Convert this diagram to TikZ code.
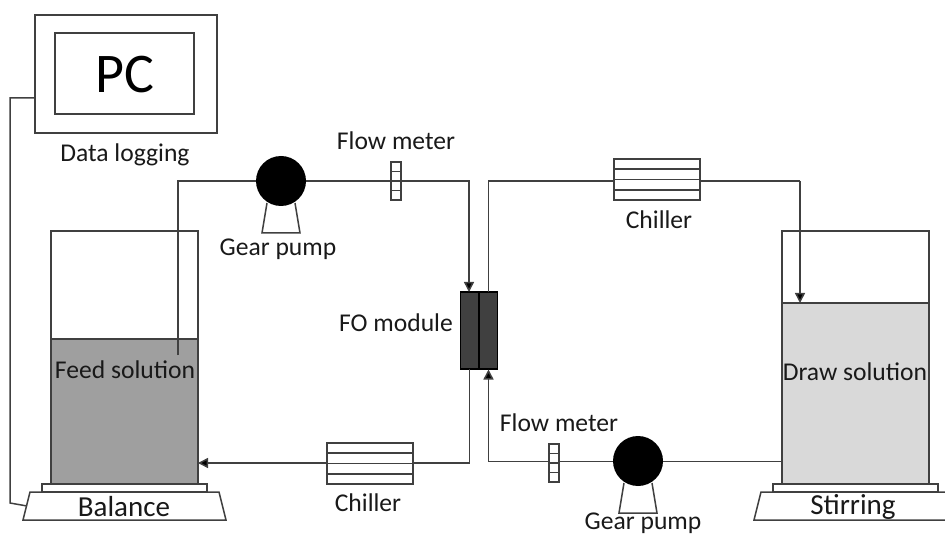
\documentclass[tikz,border=0pt]{standalone}
\usepackage{fontspec}
\setmainfont{Carlito}
\usetikzlibrary{arrows.meta,calc}
\definecolor{lc}{HTML}{404040}
\tikzset{
  x=1pt,y=-1pt,
  every node/.style={inner sep=0pt,outer sep=0pt},
  wire/.style={draw=lc,line width=1.5pt},
  arrowed/.style={wire,-{Triangle[length=10pt,width=10pt,fill=black]}},
  box/.style={draw=lc,line width=1.5pt,minimum width=#1},
  lab/.style={font=\fontsize{25.6}{27}\selectfont,text=black!90},
  biglab/.style={font=\fontsize{29}{31}\selectfont,text=black!90},
  pumpc/.style={circle,fill=black,minimum size=50pt},
  modbox/.style={draw=black,fill=lc,line width=1.5pt,minimum width=18.5pt,minimum height=77pt},
  scalebase/.style={draw=lc,fill=white,line width=1.5pt},
}
\newcommand{\chillerbox}[2]{%
  \node[box=86pt,fill=white,minimum height=41pt] (#1) at (#2) {};
  \draw[wire] ($(#1.north west)+(0,10)$) -- ($(#1.north east)+(0,10)$);
  \draw[wire] ($(#1.north west)+(0,20.5)$) -- ($(#1.north east)+(0,20.5)$);
  \draw[wire] ($(#1.north west)+(0,31)$) -- ($(#1.north east)+(0,31)$);
}
\newcommand{\meterbox}[2]{%
  \node[box=10pt,fill=white,minimum height=38pt] (#1) at (#2) {};
  \draw[wire] ($(#1.north west)+(0,9.5)$) -- ($(#1.north east)+(0,9.5)$);
  \draw[wire] ($(#1.north west)+(0,19)$) -- ($(#1.north east)+(0,19)$);
  \draw[wire] ($(#1.north west)+(0,28.5)$) -- ($(#1.north east)+(0,28.5)$);
}
\newcommand{\pumpunit}[2]{%
  \draw[wire] ($(#2)+(-14,22)$) -- ($(#2)+(-19,52)$) -- ($(#2)+(19,52)$) -- ($(#2)+(14,22)$);
  \node[pumpc] (#1) at (#2) {};
}
\newcommand{\scaleshape}[1]{%
  \draw[scalebase] ($(#1)+(-94.5,-14)$) -- ($(#1)+(94.5,-14)$) -- ($(#1)+(101.5,14)$) -- ($(#1)+(-101.5,14)$) -- cycle;
}
\begin{document}
\begin{tikzpicture}
\useasboundingbox (0,0) rectangle (945,537);
\clip (0,0) rectangle (945,537);
% PC
\node[box=182pt,minimum height=118pt] (pcouter) at (126,74) {};
\node[box=139pt,minimum height=81pt] (pcinner) at (124.5,73.5) {};
\node[font=\fontsize{56}{60}\selectfont,text=black] (pctext) at (125,75) {PC};
\node[lab] (datalog) at (125,155) {Data logging};
% left tank
\node[box=147pt,minimum height=253pt] (ltank) at (124.5,357.5) {};
\node[draw=lc,line width=1.5pt,fill=black!37.5!white,minimum width=147pt,minimum height=145pt] (lliquid) at (124.5,411.5) {};
\node[box=165pt,minimum height=8pt,fill=white] (lbase) at (124.5,488) {};
\scaleshape{124.5,506}
\node[biglab] (baltext) at (124,507) {Balance};
% right tank
\node[box=147pt,minimum height=253pt] (rtank) at (855.5,357.5) {};
\node[draw=lc,line width=1.5pt,fill=black!15!white,minimum width=147pt,minimum height=181pt] (rliquid) at (855.5,393.5) {};
\node[box=165pt,minimum height=8pt,fill=white] (rbase) at (855.5,488) {};
\scaleshape{855.5,506}
\node[biglab] (stirtext) at (853,507) {Stirring};
% module
\node[modbox] (modl) at (469.5,330.5) {};
\node[modbox] (modr) at (488,330.5) {};
% named free ends
\coordinate (feedend) at (178,355);
\coordinate (feedtop) at (178,181);
\coordinate (topl) at (469,181);
\coordinate (topr) at (488.5,181);
\coordinate (drawin) at (800,181);
\coordinate (drawtip) at (800,303);
\coordinate (botl) at (469.5,463);
\coordinate (botr) at (488.5,461.5);
\coordinate (ltip) at (198,463);
\coordinate (rstart) at (782,461.5);
\coordinate (wa) at (10,503);
\coordinate (wb) at (10,98);
\coordinate (wstart) at (27,506);
\coordinate (wend) at (35,98);
% wires
\draw[wire] (wstart) -- (wa) -- (wb) -- (wend);
\draw[arrowed] (feedend) -- (feedtop) -- (topl) -- (469,292);
\draw[wire] (488.5,292) -- (topr) -- (drawin);
\draw[arrowed] (drawin) -- (drawtip);
\draw[arrowed] (469.5,369) -- (botl) -- (ltip);
\draw[arrowed] (rstart) -- (botr) -- (488.5,369.5);
% devices on wires
\pumpunit{ptop}{281,181}
\pumpunit{pbot}{638,461}
\meterbox{mtop}{396,181}
\meterbox{mbot}{554,463}
\chillerbox{ctop}{657,179.5}
\chillerbox{cbot}{370,463.5}
% labels
\node[lab] at (396,141) {Flow meter};
\node[lab] at (278,249) {Gear pump};
\node[lab] at (659,220) {Chiller};
\node[lab] at (396,323) {FO module};
\node[lab] at (125,370) {Feed solution};
\node[lab] at (855,372) {Draw solution};
\node[lab] at (559,423) {Flow meter};
\node[lab] at (368,503) {Chiller};
\node[lab] at (643,523) {Gear pump};
\end{tikzpicture}
\end{document}
